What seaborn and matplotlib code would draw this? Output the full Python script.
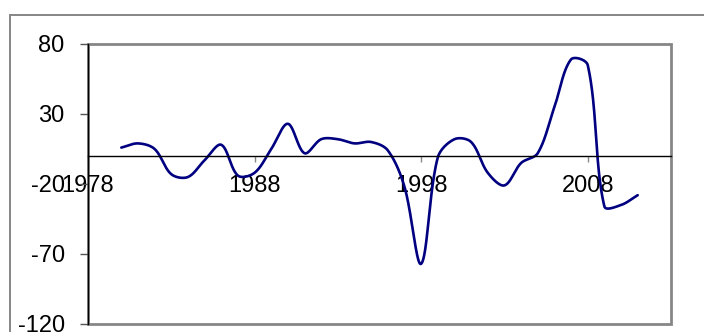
import numpy as np
import pandas as pd
import matplotlib
matplotlib.use("Agg")
import matplotlib.pyplot as plt
from matplotlib.patches import Rectangle
import seaborn as sns

# Annual series, 1980-2011
years = list(range(1980, 2012))
values = [6, 9, 5, -13, -15, -3, 8, -14, -12, 5,
          23, 2, 12, 12, 9, 10, 4, -22, -77, -1,
          12, 10, -12, -21, -5, 2, 35, 69, 65, -36,
          -35, -28]

x_ticks = [1978, 1988, 1998, 2008]
y_ticks = [-120, -70, -20, 30, 80]

W, H = 704, 332
AX_LEFT, AX_RIGHT, AX_TOP, AX_BOTTOM = 88, 671, 44, 324
X_MIN, X_MAX, Y_MIN, Y_MAX = 1978, 2013, -120, 80


def smooth_curve(xs, ys, sx, sy, steps=60):
    """Bezier smoothing through every point; tangents follow the neighbours and
    control-point reach is weighted by on-screen chord lengths."""
    P = np.column_stack([np.asarray(xs, float) * sx, np.asarray(ys, float) * sy])
    n = len(P)
    ext = np.vstack([P[0], P, P[-1]])
    d = np.linalg.norm(np.diff(ext, axis=0), axis=1)  # chord lengths incl. padding
    t = np.linspace(0, 1, steps, endpoint=False)[:, None]
    pts = []
    for i in range(n - 1):
        a_prev, a, b, b_next = ext[i], ext[i + 1], ext[i + 2], ext[i + 3]
        d0, d1, d2 = d[i], d[i + 1], d[i + 2]
        w1 = d1 / (d0 + d1) if d0 + d1 > 0 else 0.5
        w2 = d1 / (d1 + d2) if d1 + d2 > 0 else 0.5
        c1 = a + (b - a_prev) * w1 / 3.0
        c2 = b - (b_next - a) * w2 / 3.0
        seg = (1 - t) ** 3 * a + 3 * (1 - t) ** 2 * t * c1 \
            + 3 * (1 - t) * t ** 2 * c2 + t ** 3 * b
        pts.append(seg)
    pts.append(P[-1][None, :])
    pts = np.vstack(pts)
    return pts[:, 0] / sx, pts[:, 1] / sy


sns.set_style("white")
plt.rcParams["font.family"] = ["Liberation Sans", "DejaVu Sans"]

fig = plt.figure(figsize=(W / 100, H / 100), dpi=100)
ax = fig.add_axes([AX_LEFT / W, 1 - AX_BOTTOM / H,
                   (AX_RIGHT - AX_LEFT) / W, (AX_BOTTOM - AX_TOP) / H])

px_per_x = (AX_RIGHT - AX_LEFT) / (X_MAX - X_MIN)
px_per_y = (AX_BOTTOM - AX_TOP) / (Y_MAX - Y_MIN)
cx, cy = smooth_curve(years, values, px_per_x, px_per_y)
curve = pd.DataFrame({"year": cx, "value": cy})
sns.lineplot(data=curve, x="year", y="value", ax=ax, color="#000080",
             linewidth=1.9, estimator=None, sort=False)

ax.set_xlim(X_MIN, X_MAX)
ax.set_ylim(Y_MIN, Y_MAX)
ax.set_xticks(x_ticks)
ax.set_xticklabels([str(v) for v in x_ticks])
ax.set_yticks(y_ticks)
ax.set_yticklabels([str(v) for v in y_ticks])
ax.set_xlabel("")
ax.set_ylabel("")

# Plot-area frame in grey, category axis crossing at zero
ax.patch.set_edgecolor("#868686")
ax.patch.set_linewidth(2.0)
ax.patch.set_facecolor("white")
for side in ("top", "right"):
    ax.spines[side].set_visible(False)
ax.spines["left"].set_color("black")
ax.spines["left"].set_linewidth(1.0)
ax.spines["bottom"].set_position(("data", 0))
ax.spines["bottom"].set_color("black")
ax.spines["bottom"].set_linewidth(1.0)

ax.tick_params(axis="y", direction="out", length=5.8, width=1.0,
               color="#555555", labelsize=17, pad=11, labelcolor="black", left=True)
ax.tick_params(axis="x", direction="out", length=4.5, width=1.0,
               color="#888888", labelsize=17, pad=9.5, labelcolor="black", bottom=True)
for lab in ax.get_xticklabels() + ax.get_yticklabels():
    lab.set_clip_on(False)

# Outer chart border
fig.patches.append(Rectangle((10 / W, -0.2), 1.2, 1 - 15 / H + 0.2,
                             transform=fig.transFigure, fill=False,
                             edgecolor="#868686", linewidth=1.4, zorder=0))

fig.savefig("out.png", dpi=100)
